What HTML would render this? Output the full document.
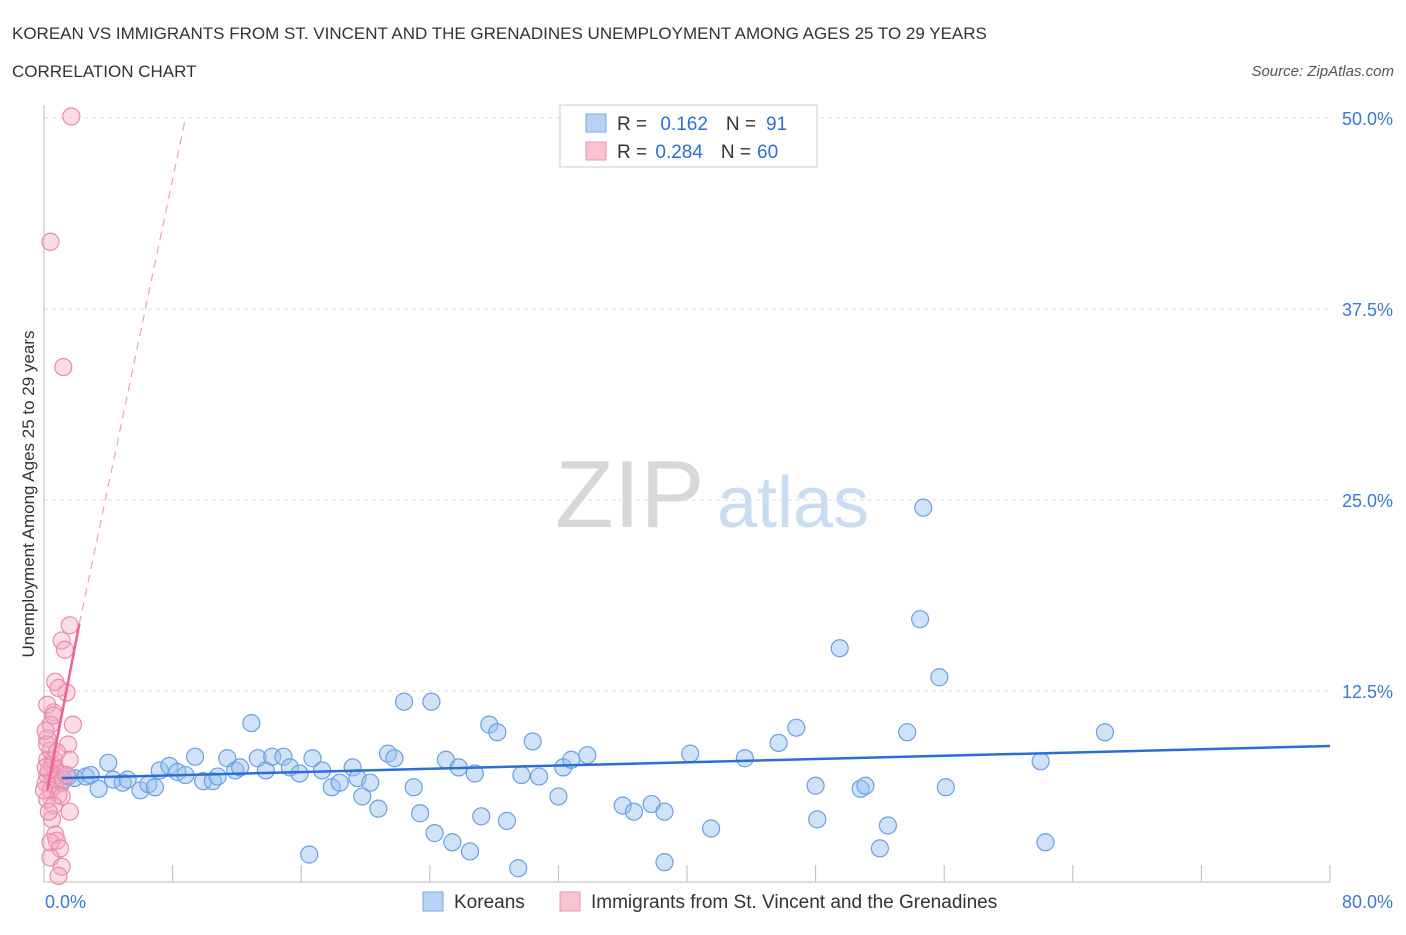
<!DOCTYPE html>
<html><head><meta charset="utf-8">
<style>
body{margin:0;background:#fff;font-family:"Liberation Sans",sans-serif;}
svg text{font-family:"Liberation Sans",sans-serif;}
</style></head>
<body>
<svg id="chart" width="1406" height="930" xmlns="http://www.w3.org/2000/svg">
<text x="12" y="39" font-size="17" fill="#333">KOREAN VS IMMIGRANTS FROM ST. VINCENT AND THE GRENADINES UNEMPLOYMENT AMONG AGES 25 TO 29 YEARS</text>
<text x="12" y="77" font-size="17" fill="#333">CORRELATION CHART</text>
<text x="1394" y="76" font-size="15" fill="#555" font-style="italic" text-anchor="end">Source: ZipAtlas.com</text>
<text x="555" y="527" font-size="96" fill="#d8d8d8" font-family="Liberation Serif, serif">ZIP</text>
<text x="717" y="527" font-size="72" fill="#c8dcf2">atlas</text>
<g id="grid"></g>
<g id="axes"></g>
<g id="marks"></g>
<text transform="translate(34,494) rotate(-90)" font-size="17" fill="#333" text-anchor="middle">Unemployment Among Ages 25 to 29 years</text>
<g>
<rect x="560" y="105" width="257" height="62" fill="#fff" stroke="#ccc"/>
<rect x="586" y="114" width="20" height="18" fill="#b8d2f4" stroke="#7aa8e6"/>
<rect x="586" y="142" width="20" height="18" fill="#f8c4d2" stroke="#ec94ae"/>
<text x="617" y="130" font-size="19" fill="#333">R = <tspan fill="#2b6fd6" dx="8">0.162</tspan><tspan dx="18" fill="#333">N =</tspan><tspan dx="10" fill="#2b6fd6">91</tspan></text>
<text x="617" y="158" font-size="19" fill="#333">R = <tspan fill="#2b6fd6" dx="3">0.284</tspan><tspan dx="18" fill="#333">N =</tspan><tspan dx="6" fill="#2b6fd6">60</tspan></text>
</g>
<g>
<rect x="423" y="892" width="20" height="19" fill="#b8d2f4" stroke="#7aa8e6"/>
<text x="454" y="908" font-size="19" fill="#333">Koreans</text>
<rect x="560" y="892" width="20" height="19" fill="#f8c4d2" stroke="#ec94ae"/>
<text x="591" y="908" font-size="19" fill="#333">Immigrants from St. Vincent and the Grenadines</text>
</g>
</svg>
<script>
const yTicks=[12.5,25,37.5,50];
const yTickLabels=["12.5%","25.0%","37.5%","50.0%"];
const xTicks=[0,8,16,24,32,40,48,56,64,72,80];
const xLabels=["0.0%","80.0%"];
const blueX=[0.7,1.1,1.5,1.9,2.6,2.9,3.4,4.0,4.3,4.9,5.2,6.0,6.5,6.9,7.2,7.8,8.3,8.8,9.4,9.9,10.5,10.8,11.4,11.9,12.2,12.9,13.3,13.8,14.2,14.9,15.3,15.9,16.5,16.7,17.3,17.9,18.4,19.2,19.5,19.8,20.3,20.8,21.4,21.8,22.4,23.0,23.4,24.1,24.3,25.0,25.4,25.8,26.5,26.8,27.2,27.7,28.2,28.8,29.5,29.7,30.4,30.8,32.0,32.3,32.8,33.8,36.0,36.7,37.8,38.6,38.6,40.2,41.5,43.6,45.7,46.8,48.0,48.1,49.5,50.8,51.1,52.5,52.0,53.7,54.5,54.7,55.7,56.1,62.0,62.3,66.0];
const blueY=[6.7,6.5,6.9,6.8,6.9,7.0,6.1,7.8,6.7,6.5,6.7,6.0,6.4,6.2,7.3,7.6,7.2,7.0,8.2,6.6,6.6,6.9,8.1,7.3,7.5,10.4,8.1,7.3,8.2,8.2,7.5,7.1,1.8,8.1,7.3,6.2,6.5,7.5,6.8,5.6,6.5,4.8,8.4,8.1,11.8,6.2,4.5,11.8,3.2,8.0,2.6,7.5,2.0,7.1,4.3,10.3,9.8,4.0,0.9,7.0,9.2,6.9,5.6,7.5,8.0,8.3,5.0,4.6,5.1,4.6,1.3,8.4,3.5,8.1,9.1,10.1,6.3,4.1,15.3,6.1,6.3,3.7,2.2,9.8,17.2,24.5,13.4,6.2,7.9,2.6,9.8];
const pinkX=[1.7,0.4,1.2,1.6,1.1,1.3,0.7,1.4,0.9,0.6,0.4,1.8,0.2,1.5,0.4,0.2,0.5,0.7,1.0,0.2,0.5,0.1,0.7,0.4,0.9,1.1,0.2,0.6,1.6,0.5,0.7,0.8,0.4,1.0,0.4,1.1,0.9,0.3,0.6,0.1,0.2,1.6,1.2,0.0,1.4,0.2,0.6,0.1,0.8,0.3];
const pinkY=[50.1,41.9,33.7,16.8,15.8,15.2,13.1,12.4,12.7,11.1,10.3,10.3,9.4,9.0,8.6,8.0,7.7,7.3,7.1,7.0,6.7,6.5,6.3,6.0,5.7,5.6,5.4,5.0,4.6,4.1,3.1,2.7,2.6,2.2,1.6,1.0,0.4,7.3,8.0,7.5,9.0,8.0,6.7,6.0,7.0,11.6,10.9,9.9,8.5,4.6];
const blueTrend=[[1.1,6.8],[80,8.9]];
const pinkTrend=[[0.2,6.0],[2.2,16.9]];
const pinkDash=[[2.2,16.9],[8.8,50]];

const NS="http://www.w3.org/2000/svg";
const X0=44,X1=1330,Y0=882,Y1=118;
const sx=v=>X0+(v/80)*(X1-X0);
const sy=v=>Y0-(v/50)*(Y0-Y1);
function mk(tag,attrs,parent){const e=document.createElementNS(NS,tag);for(const k in attrs)e.setAttribute(k,attrs[k]);parent.appendChild(e);return e;}
const grid=document.getElementById('grid'),axes=document.getElementById('axes'),marks=document.getElementById('marks');
yTicks.forEach((t,i)=>{
  const l=mk('line',{x1:X0,x2:X1,y1:sy(t),y2:sy(t),stroke:'#ddd','stroke-dasharray':'4,4'},grid);
  
  
  const tx=mk('text',{x:1393,y:sy(t)+7,'font-size':18,fill:'#3a78d6','text-anchor':'end'},axes);
  tx.textContent=yTickLabels[i];
  
  
});
const xa=mk('line',{x1:X0,x2:X1,y1:Y0,y2:Y0,stroke:'#bbb'},axes);


const ya=mk('line',{x1:X0,x2:X0,y1:105,y2:Y0,stroke:'#bbb'},axes);


xTicks.forEach(t=>{
  const l=mk('line',{x1:sx(t),x2:sx(t),y1:Y0-17,y2:Y0,stroke:'#bbb'},axes);
  
  
});
const xl0=mk('text',{x:45,y:908,'font-size':18,fill:'#3a78d6'},axes);xl0.textContent=xLabels[0];


const xl1=mk('text',{x:1393,y:908,'font-size':18,fill:'#3a78d6','text-anchor':'end'},axes);xl1.textContent=xLabels[1];


blueX.forEach((x,i)=>{
  const c=mk('circle',{cx:sx(x),cy:sy(blueY[i]),r:8.5,fill:'rgba(150,190,240,0.45)',stroke:'#6a9fe0','stroke-width':1.2},marks);
  
  
});
pinkX.forEach((x,i)=>{
  const c=mk('circle',{cx:sx(x),cy:sy(pinkY[i]),r:8.5,fill:'rgba(245,170,195,0.4)',stroke:'#ea8aa8','stroke-width':1.2},marks);
  
  
});
const bt=mk('line',{x1:sx(blueTrend[0][0]),y1:sy(blueTrend[0][1]),x2:sx(blueTrend[1][0]),y2:sy(blueTrend[1][1]),stroke:'#2b6fd6','stroke-width':2.5},marks);


const pt=mk('line',{x1:sx(pinkTrend[0][0]),y1:sy(pinkTrend[0][1]),x2:sx(pinkTrend[1][0]),y2:sy(pinkTrend[1][1]),stroke:'#f06090','stroke-width':2.5},marks);


const pd=mk('line',{x1:sx(pinkDash[0][0]),y1:sy(pinkDash[0][1]),x2:sx(pinkDash[1][0]),y2:sy(pinkDash[1][1]),stroke:'#f0a0b8','stroke-width':1.2,'stroke-dasharray':'8,6'},marks);


</script>
</body></html>
